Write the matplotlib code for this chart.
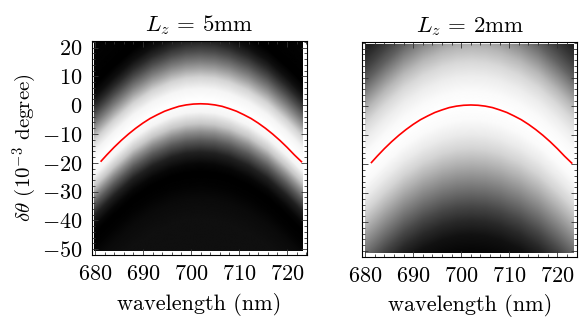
import numpy as np
import matplotlib
matplotlib.use("Agg")
import matplotlib.pyplot as plt
from matplotlib.ticker import MultipleLocator

plt.rcParams.update({
    "font.family": "serif", "font.serif": ["cmr10", "DejaVu Serif"],
    "mathtext.fontset": "cm", "axes.unicode_minus": False,
    "axes.formatter.use_mathtext": True, "font.size": 16,
})

# red curve (phase-matching angle vs wavelength)
RED_WL = [681.3, 682.5, 684, 685.5, 687, 688.5, 690, 691.5, 693, 694.5, 696, 697.5, 699, 700.5, 702,
          703.5, 705, 706.5, 708, 709.5, 711, 712.5, 714, 715.5, 717, 718.5, 720, 721.5, 723.0]
RED_THETA = [-19.4, -17.2, -14.6, -12.2, -10.0, -8.0, -6.2, -4.6, -3.3, -2.1, -1.2, -0.4, 0.1, 0.4, 0.5,
             0.4, 0.1, -0.4, -1.2, -2.1, -3.3, -4.6, -6.2, -8.0, -10.0, -12.2, -14.6, -17.2, -19.6]

# centre of the bright band across the full image width
BAND_WL = [680, 684, 688, 692, 696, 699, 702, 705, 708, 712, 716, 720, 724]
BAND_THETA = [-21.3, -14.6, -8.6, -4.2, -1.2, 0.1, 0.5, 0.1, -1.2, -4.2, -8.6, -14.6, -21.3]

# grey level vs vertical offset from the band centre (1 = white)
OFFSET_5MM = [-75, -50, -40, -33, -28, -24, -21, -17, -13, -10, -7, -3, 1, 5, 9, 12, 14.5, 18, 21, 24, 28, 35, 45]
GREY_5MM = [0.05, 0.06, 0.06, 0.04, 0.01, 0.0, 0.03, 0.13, 0.35, 0.55, 0.78, 0.96, 1.0, 0.96, 0.83, 0.64,
            0.49, 0.30, 0.16, 0.06, 0.0, 0.01, 0.02]
OFFSET_2MM = [-75, -50, -45, -40, -35, -30, -25, -20, -15, -10, -5, 0, 5, 10, 15, 20, 25, 30, 35, 40, 45, 60]
GREY_2MM = [0.0, 0.03, 0.07, 0.16, 0.28, 0.42, 0.56, 0.70, 0.83, 0.92, 0.98, 1.0, 0.98, 0.93, 0.85, 0.72,
            0.55, 0.38, 0.25, 0.15, 0.08, 0.0]

PANELS = [
    (r"$L_z\,=\,5$mm", OFFSET_5MM, GREY_5MM, [0.1565, 0.2178, 0.3651, 0.6574]),
    (r"$L_z\,=\,2$mm", OFFSET_2MM, GREY_2MM, [0.6162, 0.2126, 0.3651, 0.6595]),
]
IMG_EXTENT = [679.9, 723.3, -50.7, 21.6]

fig = plt.figure(figsize=(5.88, 3.26), dpi=100)

wl = np.linspace(IMG_EXTENT[0], IMG_EXTENT[1], 400)
th = np.linspace(IMG_EXTENT[2], IMG_EXTENT[3], 400)
WL, TH = np.meshgrid(wl, th)
D = TH - np.interp(WL, BAND_WL, BAND_THETA)

for i, (title, offs, grey, rect) in enumerate(PANELS):
    ax = fig.add_axes(rect)
    img = np.interp(D, offs, grey)
    ax.imshow(img, extent=IMG_EXTENT, origin="lower", cmap="gray", vmin=0, vmax=1,
              aspect="auto", interpolation="bilinear")
    ax.plot(RED_WL, RED_THETA, color="#ff0000", lw=1.2)
    ax.set_xlim(679.4, 724.1)
    ax.set_ylim(-52.0, 22.4)
    ax.xaxis.set_major_locator(MultipleLocator(10))
    ax.xaxis.set_minor_locator(MultipleLocator(2))
    ax.yaxis.set_major_locator(MultipleLocator(10))
    ax.yaxis.set_minor_locator(MultipleLocator(2))
    ax.tick_params(which="both", direction="in", top=True, right=True, width=0.6, color="#333333")
    ax.tick_params(which="major", length=4, pad=7)
    ax.tick_params(which="minor", length=2)
    for s in ax.spines.values():
        s.set_linewidth(0.8)
    ax.set_title(title, fontsize=16.5, pad=7)
    ax.set_xlabel("wavelength (nm)", fontsize=16, labelpad=6)
    if i == 0:
        ax.set_ylabel(r"$\delta\theta$ (10$^{-3}$ degree)", fontsize=15, labelpad=2)
    else:
        ax.tick_params(labelleft=False)

fig.savefig("out.png", dpi=100)
